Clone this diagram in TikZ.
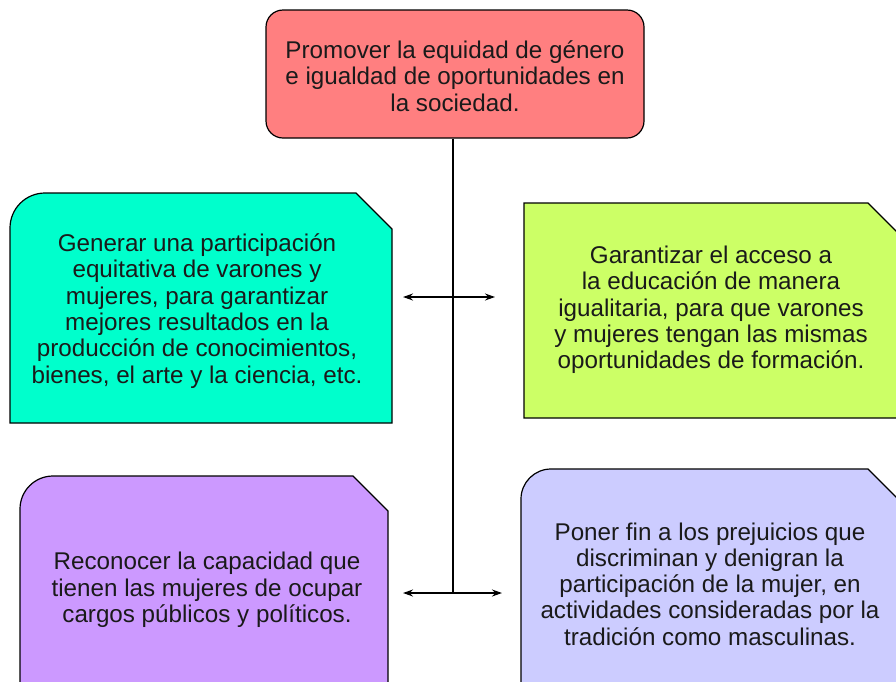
\documentclass[tikz,border=0pt]{standalone}
\usepackage{fontspec}
\setmainfont{Liberation Sans}
\usetikzlibrary{arrows.meta}
\definecolor{cred}{HTML}{FF7F80}
\definecolor{cteal}{HTML}{00FFCC}
\definecolor{cgreen}{HTML}{CCFF66}
\definecolor{cpurple}{HTML}{CC99FF}
\definecolor{clav}{HTML}{CCCCFF}
\definecolor{ctext}{HTML}{1A1A1A}
\tikzset{
  boxline/.style={draw=black, line width=1.2pt},
  txt/.style={align=center, text=ctext, font=\fontsize{24.2}{26.3}\selectfont, inner sep=0pt},
  conn/.style={line width=1.4pt, draw=black},
  dbl/.style={conn, {Stealth[length=10pt,width=7pt]}-{Stealth[length=10pt,width=7pt]}}
}
\begin{document}
\begin{tikzpicture}[x=1pt,y=1pt]
\useasboundingbox (0,0) rectangle (896,-681);
\clip (0,0) rectangle (896,-681);
\fill[white] (0,0) rectangle (896,-681);
% top box
\node[boxline, fill=cred, rounded corners=17pt, minimum width=378pt, minimum height=128pt, inner sep=0pt] (top) at (455,-74) {};
\node[txt] (toptxt) at (455,-76) {Promover la equidad de género\\e igualdad de oportunidades en\\la sociedad.};
% teal box
\path[boxline, fill=cteal] (10,-423) -- (10,-228) arc[start angle=180, end angle=90, radius=35] -- (356,-193) -- (392,-229) -- (392,-423) -- cycle;
\node[txt] (teal) at (197,-311) {Generar una participación\\equitativa de varones y\\mujeres, para garantizar\\mejores resultados en la\\producción de conocimientos,\\bienes, el arte y la ciencia, etc.};
% green box
\path[boxline, fill=cgreen] (524,-418) -- (524,-203) -- (868,-203) -- (908,-243) -- (908,-418) -- cycle;
\node[txt] (green) at (711,-310) {Garantizar el acceso a\\la educación de manera\\igualitaria, para que varones\\y mujeres tengan las mismas\\oportunidades de formación.};
% purple box
\path[boxline, fill=cpurple] (20,-695) -- (20,-509) arc[start angle=180, end angle=90, radius=33] -- (353,-476) -- (388,-511) -- (388,-695) -- cycle;
\node[txt] (purple) at (207,-590) {Reconocer la capacidad que\\tienen las mujeres de ocupar\\cargos públicos y políticos.};
% lavender box
\path[boxline, fill=clav] (521,-695) -- (521,-499) arc[start angle=180, end angle=90, radius=30] -- (868,-469) -- (906,-507) -- (906,-695) -- cycle;
\node[txt] (lav) at (710,-584) {Poner fin a los prejuicios que\\discriminan y denigran la\\participación de la mujer, en\\actividades consideradas por la\\tradición como masculinas.};
% connectors
\coordinate (j1) at (453,-297);
\coordinate (j2) at (453,-593);
\coordinate (a1l) at (403,-297);
\coordinate (a1r) at (495,-297);
\coordinate (a2l) at (403,-593);
\coordinate (a2r) at (502,-593);
\draw[conn] (top.south -| j2) -- (j2);
\draw[dbl] (a1l) -- (a1r);
\draw[dbl] (a2l) -- (a2r);
\end{tikzpicture}
\end{document}
